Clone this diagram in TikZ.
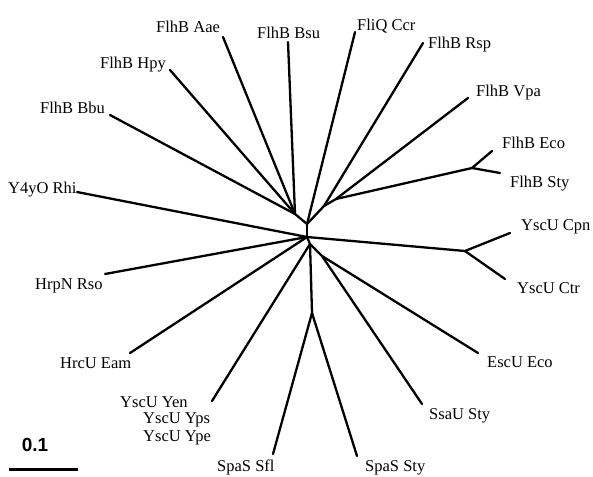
\documentclass[tikz,border=0pt]{standalone}
\usepackage{fontspec}
\setmainfont{Liberation Serif}
\newfontfamily\barfont{Liberation Sans}

\begin{document}
\begin{tikzpicture}[x=1pt,y=-1pt,
  branch/.style={line width=2.3pt,line cap=round,line join=round},
  taxon/.style={anchor=base west,inner sep=0pt,font=\fontsize{16.5}{19}\selectfont}]
\useasboundingbox (0,0) rectangle (593,476);

	% inner nodes of the tree
	\coordinate (C) at (307,237);
	\coordinate (U) at (307,224);
	\coordinate (L) at (295,214);
	\coordinate (V) at (324,206);
	\coordinate (W) at (336,199);
	\coordinate (X) at (472,168);
	\coordinate (Y) at (465,251);
	\coordinate (D) at (310,244);
	\coordinate (S) at (312,313);
	\coordinate (E) at (322,256);

	% ends of the leaves
	\coordinate (aae) at (223,37);
	\coordinate (bsu) at (288,42);
	\coordinate (hpy) at (170,70);
	\coordinate (bbu) at (110,115);
	\coordinate (rhi) at (77,192);
	\coordinate (ccr) at (355,32);
	\coordinate (rsp) at (423,43);
	\coordinate (vpa) at (468,98);
	\coordinate (eco) at (492,151);
	\coordinate (sty) at (500,173);
	\coordinate (cpn) at (510,233);
	\coordinate (ctr) at (505,279);
	\coordinate (escu) at (478,353);
	\coordinate (ssau) at (422,404);
	\coordinate (spasty) at (357,456);
	\coordinate (sfl) at (273,454);
	\coordinate (yen) at (212,401);
	\coordinate (eam) at (130,353);
	\coordinate (rso) at (105,274);

	% Draw the branches
	\draw[branch] (C) -- (U);
	\draw[branch] (U) -- (L);
	\draw[branch] (L) -- (bbu);
	\draw[branch] (L) -- (hpy);
	\draw[branch] (L) -- (aae);
	\draw[branch] (L) -- (bsu);
	\draw[branch] (U) -- (ccr);
	\draw[branch] (U) -- (V);
	\draw[branch] (V) -- (rsp);
	\draw[branch] (V) -- (W);
	\draw[branch] (W) -- (vpa);
	\draw[branch] (W) -- (X);
	\draw[branch] (X) -- (eco);
	\draw[branch] (X) -- (sty);
	\draw[branch] (C) -- (rhi);
	\draw[branch] (C) -- (rso);
	\draw[branch] (C) -- (eam);
	\draw[branch] (C) -- (Y);
	\draw[branch] (Y) -- (cpn);
	\draw[branch] (Y) -- (ctr);
	\draw[branch] (C) -- (D);
	\draw[branch] (D) -- (yen);
	\draw[branch] (D) -- (S);
	\draw[branch] (S) -- (sfl);
	\draw[branch] (S) -- (spasty);
	\draw[branch] (D) -- (E);
	\draw[branch] (E) -- (escu);
	\draw[branch] (E) -- (ssau);

	% Labels
	\node[taxon] (tAae) at (156,32.5) {FlhB Aae};
	\node[taxon] (tBsu) at (257,38.5) {FlhB Bsu};
	\node[taxon] (tHpy) at (100,68.5) {FlhB Hpy};
	\node[taxon] (tBbu) at (40,113.5) {FlhB Bbu};
	\node[taxon] (tRhi) at (8,193.5) {Y4yO Rhi};
	\node[taxon] (tCcr) at (357,30.5) {FliQ Ccr};
	\node[taxon] (tRsp) at (428,48.5) {FlhB Rsp};
	\node[taxon] (tVpa) at (476,96.5) {FlhB Vpa};
	\node[taxon] (tEco) at (502,148.5) {FlhB Eco};
	\node[taxon] (tSty) at (510,187.5) {FlhB Sty};
	\node[taxon] (tCpn) at (521,230.5) {YscU Cpn};
	\node[taxon] (tCtr) at (517,293.5) {YscU Ctr};
	\node[taxon] (tEscU) at (487,367.5) {EscU Eco};
	\node[taxon] (tSsaU) at (429,419.5) {SsaU Sty};
	\node[taxon] (tSpaSty) at (365,471.5) {SpaS Sty};
	\node[taxon] (tSfl) at (217,471.5) {SpaS Sfl};
	\node[taxon] (tYen) at (120,407.5) {YscU Yen};
	\node[taxon] (tYps) at (143,423.5) {YscU Yps};
	\node[taxon] (tYpe) at (143,441.5) {YscU Ype};
	\node[taxon] (tEam) at (60,368.5) {HrcU Eam};
	\node[taxon] (tRso) at (35,289.5) {HrpN Rso};

	% scale bar
	\coordinate (bar1) at (9,469);
	\coordinate (bar2) at (78,469);
	\draw[line width=3pt] (bar1) -- (bar2);
	\node[inner sep=0pt,font=\barfont\bfseries\fontsize{19}{20}\selectfont] (barlabel) at (35,445) {0.1};

\end{tikzpicture}
\end{document}
